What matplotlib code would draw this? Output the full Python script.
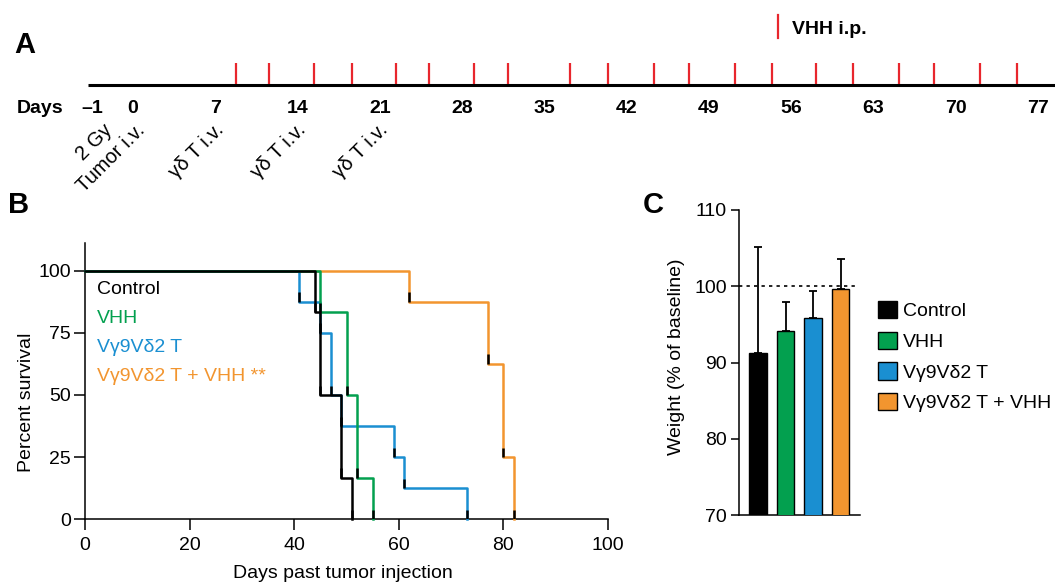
import numpy as np
import matplotlib
matplotlib.use("Agg")
import matplotlib.pyplot as plt
from matplotlib.patches import Patch

plt.rcParams['font.family'] = ['Liberation Sans', 'DejaVu Sans']
plt.rcParams['axes.linewidth'] = 1.1

# --- A: treatment timeline ---
day_ticks = [-1, 0, 7, 14, 21, 28, 35, 42, 49, 56, 63, 70, 77]
vhh_days = [8.8, 11.6, 15.4, 18.6, 22.4, 25.2, 29.0, 31.9, 37.2, 40.4,
            44.3, 47.3, 51.2, 54.4, 58.1, 61.3, 65.2, 68.2, 72.1, 75.2]
event_days = [-1, 0, 7, 14, 21]
event_labels = ['2 Gy', 'Tumor i.v.', 'γδ T i.v.', 'γδ T i.v.', 'γδ T i.v.']

# --- B: survival ---
groups = ['Control', 'VHH', 'Vγ9Vδ2 T', 'Vγ9Vδ2 T + VHH']
ctrl_days = [0, 44, 45, 49, 51]
ctrl_surv = [100, 83.3, 50, 16.7, 0]
vhh_days_b = [0, 45, 50, 52, 55]
vhh_surv = [100, 83.3, 50, 16.7, 0]
gd_days = [0, 41, 45, 47, 49, 59, 61, 73]
gd_surv = [100, 87.5, 75, 50, 37.5, 25, 12.5, 0]
combo_days = [0, 62, 77, 80, 82]
combo_surv = [100, 87.5, 62.5, 25, 0]

colors = ['#000000', '#03a04f', '#1a8fd1', '#f2952f']

# --- C: weight ---
weight_mean = [91.2, 94.1, 95.8, 99.7]
weight_err = [13.9, 3.8, 3.6, 3.9]

W, H = 1055, 586
fig = plt.figure(figsize=(W / 100, H / 100), dpi=100)

def rect(l, t, r, b):
    return [l / W, 1 - b / H, (r - l) / W, (b - t) / H]

# ---------------- panel A ----------------
axa = fig.add_axes(rect(0, 0, W, 190))
axa.axis('off')
px_day = 11.75
x0 = -133 / px_day
axa.set_xlim(x0, x0 + W / px_day)
axa.set_ylim((85 - 190) / 22, 85 / 22)

axa.plot([(88 - 133) / px_day, x0 + W / px_day], [0, 0], color='black', lw=2.2,
         solid_capstyle='butt', clip_on=False)
axa.vlines(vhh_days, 0.05, 1, color='#e8262d', lw=1.6)

for d in day_ticks:
    dx = -29 if d == -1 else 0
    axa.annotate('–1' if d == -1 else str(d), (d, -1.05), xytext=(dx * 0.72, 0),
                 textcoords='offset points', ha='center', va='center',
                 fontsize=14, fontweight='bold')
axa.text(-7.9, -1.05, 'Days', ha='center', va='center', fontsize=14, fontweight='bold')

shift_px = [-8, 13, 9, 9, 9]
for d, lbl, s in zip(event_days, event_labels, shift_px):
    axa.annotate(lbl, (d, -2.09), xytext=(s * 0.72, 0), textcoords='offset points',
                 ha='right', va='baseline', rotation=45, rotation_mode='anchor',
                 fontsize=14.5)

axa.plot([(778 - 133) / px_day] * 2, [(85 - 15) / 22, (85 - 38) / 22],
         color='#e8262d', lw=1.6)
axa.text((792 - 133) / px_day, (85 - 30) / 22, 'VHH i.p.', ha='left', va='center',
         fontsize=14, fontweight='bold')

fig.text(25 / W, 1 - 45 / H, 'A', ha='center', va='center', fontsize=21, fontweight='bold')
fig.text(19 / W, 1 - 205 / H, 'B', ha='center', va='center', fontsize=21, fontweight='bold')
fig.text(653 / W, 1 - 205 / H, 'C', ha='center', va='center', fontsize=21, fontweight='bold')

# ---------------- panel B ----------------
axb = fig.add_axes(rect(85, 243.3, 608, 519.3))
curves = [(ctrl_days, ctrl_surv), (vhh_days_b, vhh_surv), (gd_days, gd_surv),
          (combo_days, combo_surv)]
zord = [6, 5, 4, 3]
for (t, s), c, z in zip(curves, colors, zord):
    axb.step(t, s, where='post', color=c, lw=1.8, zorder=z, clip_on=False)
    # small black marks at each drop
    axb.vlines(t[1:], s[1:], np.array(s[1:]) + 3.8, color='black', lw=1.8, zorder=7)

axb.set_xlim(0, 100)
axb.set_ylim(0, 111)
axb.set_xticks([0, 20, 40, 60, 80, 100])
axb.set_yticks([0, 25, 50, 75, 100])
axb.spines['top'].set_visible(False)
axb.spines['right'].set_visible(False)
axb.tick_params(axis='x', length=8, width=1.1, labelsize=14, pad=5)
axb.tick_params(axis='y', length=8, width=1.1, labelsize=14, pad=2)
axb.set_xlabel('Days past tumor injection', fontsize=14)
axb.xaxis.set_label_coords(0.494, -0.166)
axb.set_ylabel('Percent survival', fontsize=14)
axb.yaxis.set_label_coords(-0.096, 0.425)

labels_b = groups[:3] + ['Vγ9Vδ2 T + VHH **']
for i, (lbl, c) in enumerate(zip(labels_b, colors)):
    axb.text(0.0235, 0.834 - i * 0.105, lbl, transform=axb.transAxes, color=c,
             fontsize=14, ha='left', va='center')

# ---------------- panel C ----------------
axc = fig.add_axes(rect(739.3, 210, 860, 515))
xs = np.arange(len(groups))
bars = axc.bar(xs, weight_mean, width=0.63, color=colors, edgecolor='black',
               linewidth=1, zorder=3)
axc.errorbar(xs, weight_mean, yerr=[np.zeros(len(xs)), weight_err], fmt='none',
             ecolor='black', elinewidth=1.3, capsize=3, capthick=1.3, zorder=2)
axc.axhline(100, xmin=0, xmax=0.975, color='black', lw=1.2, ls=(0, (2, 2.5)), zorder=1)
axc.set_xlim(-0.68, 3.70)
axc.set_ylim(70, 110)
axc.set_yticks([70, 80, 90, 100, 110])
axc.set_xticks([])
axc.spines['top'].set_visible(False)
axc.spines['right'].set_visible(False)
axc.tick_params(axis='y', length=6, width=1.1, labelsize=14, pad=3)
axc.set_ylabel('Weight (% of baseline)', fontsize=14)
axc.yaxis.set_label_coords(-0.45, 0.518)

handles = [Patch(facecolor=c, edgecolor='black', linewidth=1) for c in colors]
fig.legend(handles, groups, loc='upper left', bbox_to_anchor=(878 / W, 1 - 301 / H),
           frameon=False, fontsize=14, handlelength=1.0, handleheight=1.0,
           handletextpad=0.3, labelspacing=0.58, borderpad=0, borderaxespad=0)

fig.savefig('out.png', dpi=100)
